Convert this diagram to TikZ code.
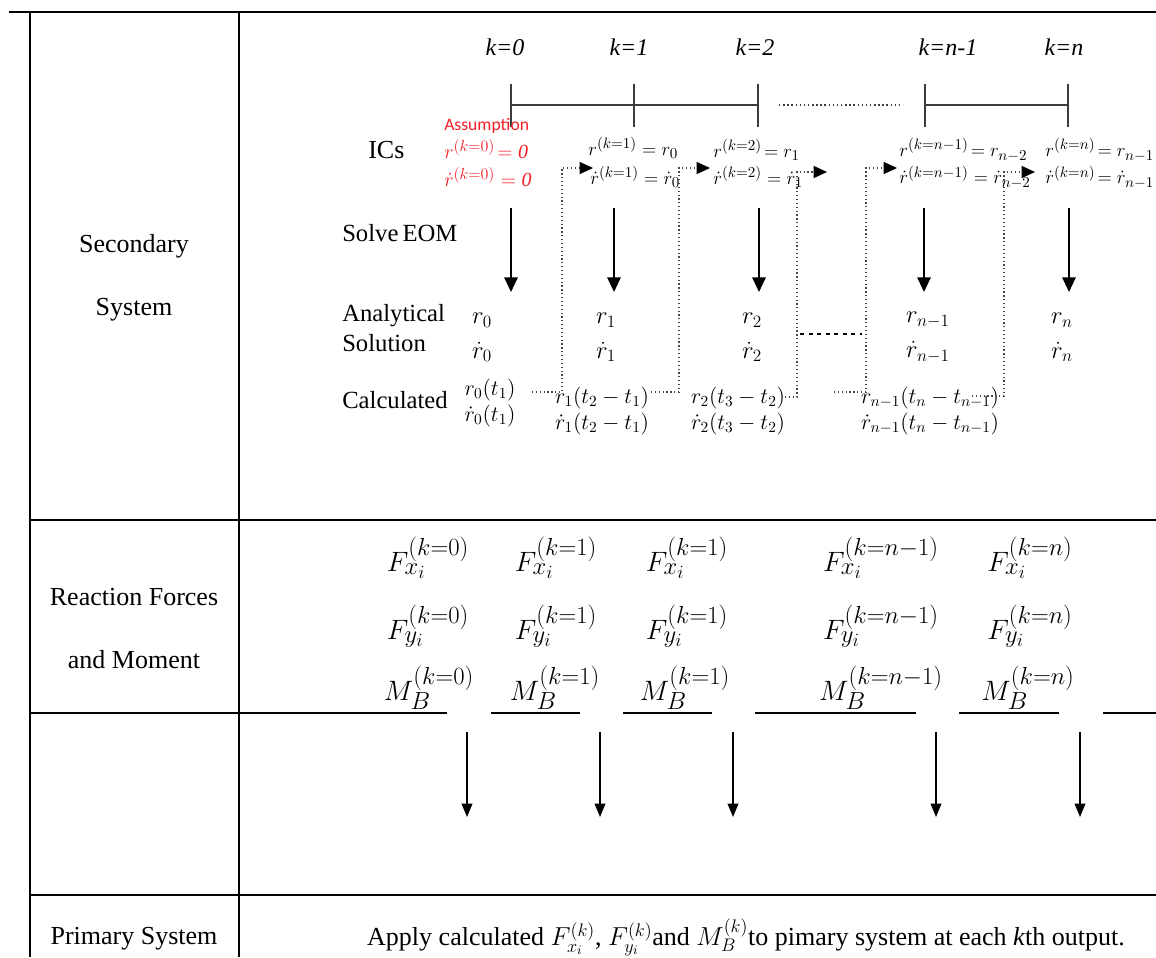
\RequirePackage{fix-cm}
\documentclass[tikz,border=0pt]{standalone}
\usepackage{fontspec}
\setmainfont{Liberation Serif}
\newfontfamily\tnr{Liberation Serif}
\newfontfamily\calib{Carlito}
\usetikzlibrary{arrows.meta}
\DeclareMathSizes{21}{21}{18.5}{14}
\DeclareMathSizes{14}{14}{11.3}{8.5}
\DeclareMathSizes{15}{15}{12}{9}
\definecolor{asred}{RGB}{245,30,40}
\definecolor{tl}{RGB}{60,60,60}
\definecolor{fbc}{RGB}{70,70,70}
\begin{document}
\begin{tikzpicture}[x=0.75pt,y=-0.75pt,
  tbl/.style={line width=1.6pt},
  lft/.style={font=\tnr\fontsize{19.5}{23}\selectfont, inner sep=0, anchor=center},
  rowlbl/.style={font=\tnr\fontsize{18.5}{22}\selectfont, anchor=west, inner sep=0},
  klbl/.style={font=\tnr\fontsize{18}{21}\selectfont, inner sep=0},
  ic/.style={font=\tnr\fontsize{14}{16}\selectfont, anchor=west, inner sep=0},
  icred/.style={ic, text=asred, font=\tnr\fontsize{15}{17}\selectfont},
  an/.style={font=\tnr\fontsize{18.5}{21}\selectfont, inner sep=0},
  calc/.style={font=\tnr\fontsize{16.5}{18}\selectfont, inner sep=0},
  rf/.style={font=\tnr\fontsize{21}{24}\selectfont, inner sep=0},
  tline/.style={tl, line width=1.1pt},
  solarrow/.style={line width=1.5pt, -{Triangle[length=11pt,width=10pt]}},
  lowarrow/.style={line width=1.1pt, -{Triangle[length=10pt,width=8pt]}},
  fb/.style={fbc, line width=0.9pt, dotted, -{Triangle[length=10pt,width=9pt,fill=black,color=black]}}
]
\useasboundingbox (0,0) rectangle (1156,957);

% ---- table frame ----
\draw[line width=2.2pt] (9,12) -- (321,12);
\draw[line width=1.4pt] (321,12) -- (1156,12);
\draw[tbl] (30,12) -- (30,957);
\draw[tbl] (239,12) -- (239,957);
\draw[tbl] (30,520) -- (1156,520);
\draw[tbl] (30,713) -- (447,713);
\draw[tbl] (491,713) -- (580,713);
\draw[tbl] (623,713) -- (712,713);
\draw[tbl] (755,713) -- (916,713);
\draw[tbl] (959,713) -- (1059,713);
\draw[tbl] (1103,713) -- (1156,713);
\draw[tbl] (30,895) -- (1156,895);

% ---- left column ----
\node[lft] (sec1) at (134,246) {\tnr Secondary};
\node[lft] (sec2) at (134,310) {\tnr System};
\node[lft] (rf1) at (134,597) {\tnr Reaction Forces};
\node[lft] (rf2) at (134,660) {\tnr and Moment};
\node[lft] (ps) at (134,939) {\tnr Primary System};

% ---- row labels ----
\node[rowlbl, font=\tnr\fontsize{19.5}{22}\selectfont] (ics) at (368,150) {ICs};
\node[rowlbl] (solve) at (342,233) {Solve\,EOM};
\node[rowlbl] (an1) at (342,316) {Analytical};
\node[rowlbl] (an2) at (342,343) {Solution};
\node[rowlbl] (calcl) at (342,400) {Calculated};

% ---- k labels ----
\node[klbl] (k0) at (505,47) {\tnr\itshape k=0};
\node[klbl] (k1) at (629,47) {\tnr\itshape k=1};
\node[klbl] (k2) at (755,47) {\tnr\itshape k=2};
\node[klbl] (k3) at (948,47) {\tnr\itshape k=n-1};
\node[klbl] (k4) at (1064,47) {\tnr\itshape k=n};

% ---- timeline ----
\draw[tline] (511,105) -- (758,105);
\draw[tline] (925,105) -- (1068,105);
\draw[tline, dotted] (779,105) -- (903,105);
\foreach \x in {511,634,758,925,1068} \draw[tline] (\x,84) -- (\x,127);

% ---- ICs ----
\node[ic, text=asred, font=\calib\fontsize{13.2}{15}\selectfont] (assum) at (444,126) {Assumption};
\node[icred] (r0ic) at (444,149) {$r^{(k=0)}\!= \mathit{0}$};
\node[icred] (rd0ic) at (444,177) {$\dot r^{(k=0)} = \mathit{0}$};
\node[ic] (r1ic) at (588,148) {$r^{(k=1)} = r_0$};
\node[ic] (rd1ic) at (590,177) {$\dot r^{(k=1)} = \dot r_0$};
\node[ic] (r2ic) at (713,150) {$r^{(k=2)}\!= r_1$};
\node[ic] (rd2ic) at (713,177) {$\dot r^{(k=2)} = \dot r_1$};
\node[ic] (r3ic) at (899,150) {$r^{(k=n-1)}\!= r_{n-2}$};
\node[ic] (rd3ic) at (899,177) {$\dot r^{(k=n-1)} = \dot r_{n-2}$};
\node[ic] (r4ic) at (1045,150) {$r^{(k=n)}\!= r_{n-1}$};
\node[ic] (rd4ic) at (1045,177) {$\dot r^{(k=n)}\!= \dot r_{n-1}$};

% ---- solve arrows ----
\foreach \i/\x in {0/511,1/614,2/759,3/924,4/1069}{
  \coordinate (sa\i) at (\x,208);
  \coordinate (sb\i) at (\x,292);
  \draw[solarrow] (sa\i) -- (sb\i);
}

% ---- analytical solution ----
\node[an] (ra0) at (482,320) {$r_0$};
\node[an] (rda0) at (482,352) {$\dot r_0$};
\node[an] (ra1) at (606,320) {$r_1$};
\node[an] (rda1) at (606,352) {$\dot r_1$};
\node[an] (ra2) at (752,320) {$r_2$};
\node[an] (rda2) at (752,352) {$\dot r_2$};
\node[an] (ra3) at (928,320) {$r_{n-1}$};
\node[an] (rda3) at (928,352) {$\dot r_{n-1}$};
\node[an] (ra4) at (1062,320) {$r_n$};
\node[an] (rda4) at (1062,352) {$\dot r_n$};
\draw[line width=2.2pt, dash pattern=on 3pt off 3.4pt] (800,334) -- (862,334);

% ---- calculated ----
\node[calc] (rc0) at (490,390) {$r_0(t_1)$};
\node[calc] (rdc0) at (490,416) {$\dot r_0(t_1)$};
\node[calc] (rc1) at (602,398) {$r_1(t_2-t_1)$};
\node[calc] (rdc1) at (602,424) {$\dot r_1(t_2-t_1)$};
\node[calc] (rc2) at (738,398) {$r_2(t_3-t_2)$};
\node[calc] (rdc2) at (738,424) {$\dot r_2(t_3-t_2)$};
\node[calc] (rc3) at (930,398) {$r_{n-1}(t_n-t_{n-1})$};
\node[calc] (rdc3) at (930,424) {$\dot r_{n-1}(t_n-t_{n-1})$};

% ---- feedback (dotted) ----
\coordinate (fa0) at (532,392); \coordinate (fb0) at (562,392);
\coordinate (fc0) at (562,168); \coordinate (fd0) at (593,168);
\draw[fb] (fa0) -- (fb0) -- (fc0) -- (fd0);
\coordinate (fa1) at (651,392); \coordinate (fb1) at (679,392);
\coordinate (fc1) at (679,168); \coordinate (fd1) at (710,168);
\draw[fb] (fa1) -- (fb1) -- (fc1) -- (fd1);
\coordinate (fa2) at (785,397); \coordinate (fb2) at (797,397);
\coordinate (fc2) at (797,172); \coordinate (fd2) at (827,172);
\draw[fb] (fa2) -- (fb2) -- (fc2) -- (fd2);
\coordinate (fa3) at (834,392); \coordinate (fb3) at (866,392);
\coordinate (fc3) at (866,168); \coordinate (fd3) at (897,168);
\draw[fb] (fa3) -- (fb3) -- (fc3) -- (fd3);
\coordinate (fa4) at (972,396); \coordinate (fb4) at (1004,396);
\coordinate (fc4) at (1004,172); \coordinate (fd4) at (1035,172);
\draw[fb] (fa4) -- (fb4) -- (fc4) -- (fd4);

% ---- reaction forces ----
\node[rf] (fx0) at (428,558) {$F_{x_i}^{(k=0)}$};
\node[rf] (fy0) at (428,626) {$F_{y_i}^{(k=0)}$};
\node[rf] (mb0) at (429,688) {$M_B^{(k=0)}$};
\node[rf] (fx1) at (556,558) {$F_{x_i}^{(k=1)}$};
\node[rf] (fy1) at (556,626) {$F_{y_i}^{(k=1)}$};
\node[rf] (mb1) at (555,688) {$M_B^{(k=1)}$};
\node[rf] (fx2) at (687,558) {$F_{x_i}^{(k=1)}$};
\node[rf] (fy2) at (687,626) {$F_{y_i}^{(k=1)}$};
\node[rf] (mb2) at (685,688) {$M_B^{(k=1)}$};
\node[rf] (fx3) at (881,558) {$F_{x_i}^{(k=n-1)}$};
\node[rf] (fy3) at (881,626) {$F_{y_i}^{(k=n-1)}$};
\node[rf] (mb3) at (881,688) {$M_B^{(k=n-1)}$};
\node[rf] (fx4) at (1030,558) {$F_{x_i}^{(k=n)}$};
\node[rf] (fy4) at (1030,626) {$F_{y_i}^{(k=n)}$};
\node[rf] (mb4) at (1028,688) {$M_B^{(k=n)}$};

% ---- lower arrows ----
\foreach \i/\x in {0/467,1/600,2/733,3/936,4/1080}{
  \coordinate (la\i) at (\x,732);
  \coordinate (lb\i) at (\x,817);
  \draw[lowarrow] (la\i) -- (lb\i);
}

% ---- primary system ----
\node[lft, font=\tnr\fontsize{19.5}{22}\selectfont] (apply) at (746,937)
  {Apply calculated $F_{x_i}^{(k)}$, $F_{y_i}^{(k)}$and $M_B^{(k)}$to pimary system at each \textit{k}th output.};
\end{tikzpicture}
\end{document}
